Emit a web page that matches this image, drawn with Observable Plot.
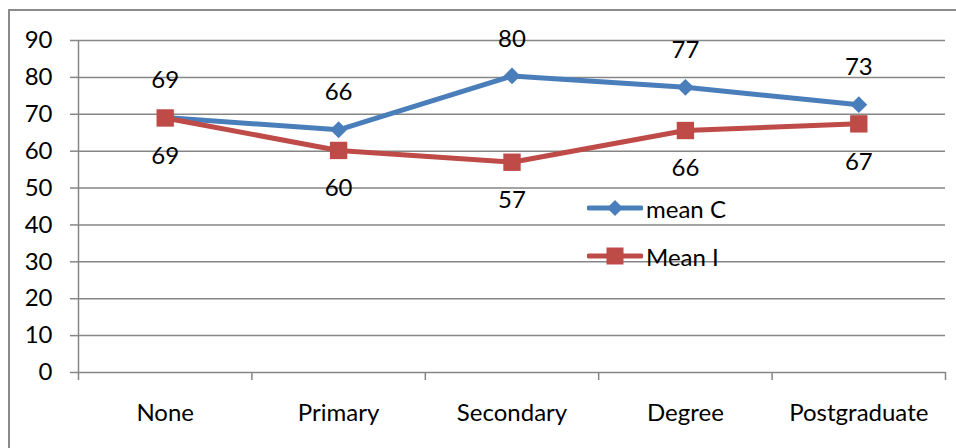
<!DOCTYPE html>
<html>
<head>
<meta charset="utf-8">
<script src="https://cdn.jsdelivr.net/npm/d3@7"></script>
<script src="https://cdn.jsdelivr.net/npm/@observablehq/plot@0.6"></script>
<style>
  html, body { margin: 0; padding: 0; background: #fff; overflow: hidden; }
  #wrap { position: relative; width: 956px; height: 448px; font-family: Lato, "Open Sans", sans-serif; }
  #frame { position: absolute; left: 8px; top: 9px; width: 1000px; height: 500px; border: 2px solid #8a8a8a; box-sizing: border-box; }
  #chart { position: absolute; left: 0; top: 0; }
  .leg { position: absolute; display: flex; align-items: center; font-size: 24px; color: #000; }
  .leg svg { display: block; margin-right: 3px; }
</style>
</head>
<body>
<div id="wrap">
  <div id="frame"></div>
  <div id="chart"></div>
</div>
<script>
const categories = ["None", "Primary", "Secondary", "Degree", "Postgraduate"];
const meanC = [69.1, 65.8, 80.4, 77.3, 72.6];
const meanI = [69.0, 60.2, 57.0, 65.6, 67.4];
const labelsC = ["69", "66", "80", "77", "73"];
const labelsI = ["69", "60", "57", "66", "67"];
const yTicks = [0, 10, 20, 30, 40, 50, 60, 70, 80, 90];
const seriesNames = ["mean C", "Mean I"];

const blue = "#4A7EBB";
const red = "#BE4B48";
const gray = "#868686";
const fs = 24;

const rowsC = categories.map((c, i) => ({i: i + 0.5, v: meanC[i], t: labelsC[i]}));
const rowsI = categories.map((c, i) => ({i: i + 0.5, v: meanI[i], t: labelsI[i]}));

const chart = Plot.plot({
  width: 956,
  height: 448,
  marginLeft: 78,
  marginRight: 11,
  marginTop: 40,
  marginBottom: 76,
  style: {fontFamily: "Lato, 'Open Sans', sans-serif", background: "transparent", overflow: "visible"},
  x: {domain: [0, categories.length], axis: null},
  y: {domain: [0, 90], axis: null},
  marks: [
    Plot.ruleY(yTicks, {stroke: gray, strokeWidth: 1.5}),
    Plot.axisY({ticks: yTicks, tickSize: 8, tickPadding: 18, fontSize: fs, stroke: gray, strokeWidth: 1.5, fill: "#000", label: null}),
    Plot.ruleX([0], {y1: 0, y2: 90, stroke: gray, strokeWidth: 1.5}),
    Plot.axisX({ticks: d3.range(categories.length + 1), tickSize: 8, tickFormat: () => "", stroke: gray, strokeWidth: 1.5, label: null}),
    Plot.text(categories, {x: (d, i) => i + 0.5, y: 0, dy: 41, text: d => d, fontSize: fs, fill: "#000"}),
    Plot.line(rowsC, {x: "i", y: "v", stroke: blue, strokeWidth: 5}),
    Plot.dot(rowsC, {x: "i", y: "v", symbol: "diamond2", r: 7.6, fill: blue, stroke: "none"}),
    Plot.line(rowsI, {x: "i", y: "v", stroke: red, strokeWidth: 5}),
    Plot.dot(rowsI, {x: "i", y: "v", symbol: "square", r: 9.8, fill: red, stroke: "none"}),
    Plot.text(rowsC, {x: "i", y: "v", text: "t", dy: -37, fontSize: fs, fill: "#000"}),
    Plot.text(rowsI, {x: "i", y: "v", text: "t", dy: 38, fontSize: fs, fill: "#000"})
  ]
});
document.getElementById("chart").appendChild(chart);

// Legend (inside plot area)
const wrap = document.getElementById("wrap");
function legendItem(name, color, shape, top) {
  const div = document.createElement("div");
  div.className = "leg";
  div.style.left = "587px";
  div.style.top = (top - 15) + "px";
  div.style.height = "30px";
  const ns = "http://www.w3.org/2000/svg";
  const svg = document.createElementNS(ns, "svg");
  svg.setAttribute("width", 56);
  svg.setAttribute("height", 30);
  const line = document.createElementNS(ns, "line");
  line.setAttribute("x1", 2); line.setAttribute("x2", 54);
  line.setAttribute("y1", 15); line.setAttribute("y2", 15);
  line.setAttribute("stroke", color); line.setAttribute("stroke-width", 5);
  line.setAttribute("stroke-linecap", "round");
  svg.appendChild(line);
  const p = document.createElementNS(ns, "path");
  if (shape === "diamond") p.setAttribute("d", "M28,7L36,15L28,23L20,15Z");
  else p.setAttribute("d", "M19.5,6.5H36.5V23.5H19.5Z");
  p.setAttribute("fill", color);
  svg.appendChild(p);
  div.appendChild(svg);
  const span = document.createElement("span");
  span.textContent = name;
  div.appendChild(span);
  wrap.appendChild(div);
}
legendItem(seriesNames[0], blue, "diamond", 208);
legendItem(seriesNames[1], red, "square", 256);
</script>
</body>
</html>
